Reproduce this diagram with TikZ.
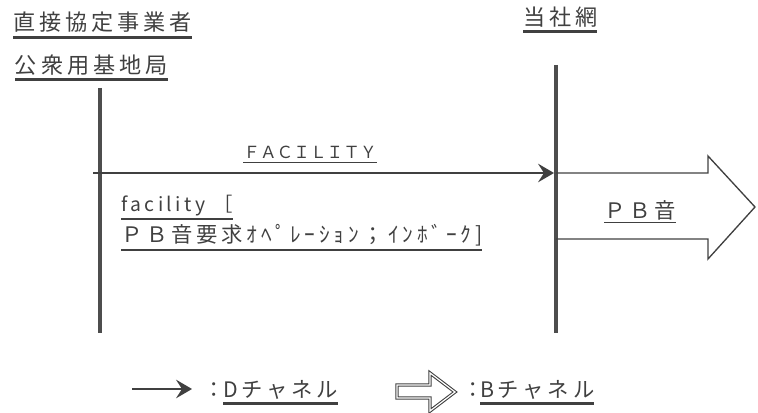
\documentclass[tikz,border=0pt]{standalone}
\usepackage{fontspec}
\newfontfamily\jpfont[LetterSpace=18]{Noto Sans CJK JP}
\newfontfamily\jpplain{Noto Sans CJK JP}
\usetikzlibrary{arrows.meta}
\definecolor{ink}{HTML}{404040}
\definecolor{lifegray}{HTML}{4D4D4D}

\begin{document}
\begin{tikzpicture}[
            x=0.75pt, y=-0.75pt,
            lbl/.style={inner sep=0pt, outer sep=0pt, text=ink, font=\jpfont\fontsize{16}{18}\selectfont},
            hdr/.style={lbl, font=\jpfont\fontsize{16.6}{18}\selectfont},
            sml/.style={lbl, font=\jpplain\fontsize{12.5}{14}\selectfont},
            ltn/.style={lbl, font=\jpfont\fontsize{14.5}{17}\selectfont},
            ul/.style={draw=ink, line width=2pt},
            life/.style={draw=lifegray, line width=3.6pt},
            msg/.style={draw=ink, line width=1pt, -{Stealth[length=12pt, width=14pt, inset=4.5pt]}},
            blk/.style={draw=ink, line width=1pt, line join=miter},
            blkkey/.style={draw=ink, line width=0.8pt, double=white, double distance=0.9pt}
        ]
        \useasboundingbox (0,0) rectangle (758,413);
        % headers
        \node[hdr, anchor=west] (kyotei) at (13,22)  {直接協定事業者};
        \node[hdr, anchor=west] (kichi)  at (15,65)  {公衆用基地局};
        \node[hdr, anchor=west] (tosha)  at (523,17) {当社網};
        \draw[ul] ([yshift=-4pt]kyotei.south west) -- ([yshift=-4pt]kyotei.south east);
        \draw[ul] ([yshift=-3pt]kichi.south west) -- ([yshift=-3pt]kichi.south east);
        \draw[ul] ([yshift=-3pt]tosha.south west) -- ([yshift=-3pt]tosha.south east);
        % lifelines
        \coordinate (ltop) at (100,88);
        \coordinate (lbot) at (100,333);
        \coordinate (rtop) at (556,65);
        \coordinate (rbot) at (556,333);
        \draw[life] (ltop) -- (lbot);
        \draw[life] (rtop) -- (rbot);
        % D channel message
        \coordinate (fstart) at (93,173);
        \coordinate (fend)   at (554,173);
        \draw[msg] (fstart) -- (fend);
        \node[sml] (fac) at (310,152) {ＦＡＣＩＬＩＴＹ};
        \draw[ul, line width=1.2pt] ([yshift=-3pt]fac.south west) -- ([yshift=-3pt]fac.south east);
        \node[ltn, anchor=west] (facA) at (121,206) {facility ［};
        \node[lbl, anchor=west] (facB) at (121,235) {ＰＢ音要求ｵﾍﾟﾚｰｼｮﾝ；ｲﾝﾎﾞｰｸ]};
        \draw[ul, line width=1.2pt] ([yshift=-2pt]facA.south west) -- ([yshift=-2pt]facA.south east);
        \draw[ul, line width=1.2pt] ([yshift=-3pt]facB.south west) -- ([yshift=-3pt]facB.south east);
        % B channel
        \draw[blk] (556,173) -- (708,173) -- (708,156) -- (755,207) -- (708,259) -- (708,239) -- (556,239);
        \node[lbl] (pb) at (640,210) {ＰＢ音};
        \draw[ul, line width=1.2pt] ([yshift=-2pt]pb.south west) -- ([yshift=-2pt]pb.south east);
        % legend
        \coordinate (kda) at (132,389);
        \coordinate (kdb) at (192,389);
        \draw[msg] (kda) -- (kdb);
        \node[lbl, anchor=west] (colD) at (203,390) {：};
        \node[lbl, anchor=west] (keyD) at (223,390) {Dチャネル};
        \draw[ul] ([yshift=-3pt]keyD.south west) -- ([yshift=-3pt]keyD.south east);
        \draw[blkkey] (397,385) -- (430,385) -- (430,373) -- (455,392) -- (430,411) -- (430,398) -- (397,398) -- cycle;
        \node[lbl, anchor=west] (colB) at (462,390) {：};
        \node[lbl, anchor=west] (keyB) at (480,390) {Bチャネル};
        \draw[ul] ([yshift=-3pt]keyB.south west) -- ([yshift=-3pt]keyB.south east);
    \end{tikzpicture}
\end{document}
